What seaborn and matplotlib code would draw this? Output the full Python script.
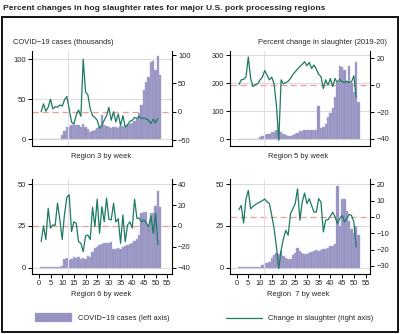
import matplotlib
matplotlib.use("Agg")
import matplotlib.pyplot as plt
import matplotlib.transforms as mtransforms
from matplotlib.patches import Rectangle
from matplotlib.lines import Line2D
import seaborn as sns

# ---- data -------------------------------------------------------------
case_weeks = list(range(1, 53))
change_weeks = list(range(1, 52))

region3_cases = [0.3] * 9 + [
    6, 11, 15, 16, 17.5, 18, 18, 18, 16, 19.5, 16, 13, 9.6, 10.4, 11.7, 14.6,
    15.8, 30, 18, 17, 15.8, 14.6, 15.4, 15.8, 14.6, 16.7, 16.3, 15.8, 18, 19.6,
    21, 23, 25.4, 32.5, 43, 61.7, 72, 78, 97, 98, 86.7, 104, 80]
region3_change = [
    0, 14, 1, 8, 22, 5, 9, 8, 12, 10, 21, 27, 5, -18, -22, -6, 3, -8, 93, 35,
    30, 5, -7, -10, -15, -29, -24, -15, -7, 8, -15, 0, -18, -4, -24, -7, -27,
    -23, -17, -15, -10, -12, -8, -12, -11, -13, -15, -21, -13, -20, -12]

region5_cases = [1] * 9 + [
    8, 12, 15, 18, 20, 25, 27, 33, 31, 25, 19, 15, 12, 13, 15, 18, 24, 30, 31,
    32, 32, 32, 32, 33, 33, 120, 40, 45, 54, 78, 93, 111, 153, 200, 263, 258,
    248, 205, 262, 200, 168, 277, 133]
region5_change = [
    0.5, 4, 4.5, 6, 21, 5, -1, 0.5, 1, 4, 6, 11, 7.5, 4, 6, 1, -15, -41, 4, 1,
    2, 3, 5, 8, 10, 12, 14, 15.5, 17.5, 14.5, 17, 12.5, 15, 12, 8, 6.5, -2.5,
    4, 0, 5, -1, 5, 2, 4.5, 2.5, 2, 3, 2, 2.5, 7, -9]

region6_cases = [0.3] * 9 + [
    1, 5, 6, 4.6, 5.4, 6.6, 5.6, 6.2, 5.2, 6, 5.4, 7, 6.6, 9.6, 11.6, 12.6,
    13.6, 14.2, 15, 14.6, 15, 15.5, 11.5, 11.2, 12, 11.5, 12.6, 13, 13.6, 14.2,
    15, 15.8, 17, 19.5, 33, 33.2, 33.6, 25.6, 32.6, 32.6, 37, 46.2, 36.6]
region6_change = [
    -15, 0, -13, 17, -2, 1, 0.6, 22, 6, -13, 11.5, 27.5, 30, -5.4, 4, 2.6, -15,
    -16.6, -24.6, -9.6, -8.6, -13, 18, -0.6, 25.6, -7, 18.6, 4, 26.6, 6.4, 5.8,
    21.8, 3.8, 7, -16.6, 10.6, -15, 1, 4, -2, 25.6, 7.4, 7.4, 4, 5.8, 2.6,
    -0.6, 9.6, -7, 12, -18]

region7_cases = [0.3] * 10 + [
    1.6, 2.6, 3, 3.6, 5.6, 7.6, 8.6, 8.2, 10.2, 7, 5.6, 5, 5.2, 7.6, 8.6, 12,
    10, 9, 8.2, 8.2, 8.6, 9.6, 10.2, 10.6, 9.8, 10.6, 11.2, 11, 11.6, 13, 13.2,
    14, 49, 25, 41.5, 41, 34, 28, 23, 21, 25, 19.6]
region7_change = [
    4.5, 7, -3.7, 11, 16.3, 5, 6.5, 7.5, 8.5, 9.2, 10, 11, 9.2, 8.2, 1, -7,
    -18.4, -31.6, -20.4, -13.3, -8.2, -11.2, 2, 5, 8.2, 17.3, -2, 9.2, 14.7,
    8.2, 11.2, 7, 3, 3, 11.2, 9.2, -9.2, -2, -1.6, 0.4, 3, 0, -4, -1, 1, -3,
    -1, 1.6, 1, -3, -18.4]

region_labels = ["Region 3 by week", "Region 5 by week",
                 "Region 6 by week", "Region  7 by week"]
first_case_week = [12.3, 11.8, 12.3, 11.8]

left_ticks = [[0, 50, 100], [0, 100, 200, 300], [0, 25, 50], [0, 25, 50]]
right_ticks = [[-50, 0, 50, 100], [-40, -20, 0, 20],
               [-40, -20, 0, 20, 40], [-30, -20, -10, 0, 10, 20]]
week_ticks = list(range(0, 60, 5))

# ---- style ------------------------------------------------------------
BAR = "#9591c1"
BAR_EDGE = "#b3b0d6"
LINE = "#1d7a62"
ZERO = "#eb9d9d"
MARK = "#ebd4ee"
GRID = "#dcdcdc"
FS = 5.4

sns.set_theme(style="white")
plt.rcParams["font.family"] = ["Liberation Sans", "DejaVu Sans"]
plt.rcParams["axes.unicode_minus"] = True

fig = plt.figure(figsize=(4.0, 3.34), dpi=100)
W, H = 400.0, 334.0


def rect(left, top, right, bottom):
    return [left / W, 1 - bottom / H, (right - left) / W, (bottom - top) / H]


panels = [
    dict(pos=rect(32.3, 50.7, 171.7, 145.7), cases=region3_cases,
         change=region3_change, lylim=(-8, 111), rylim=(-60, 108), xt=False),
    dict(pos=rect(230.0, 50.7, 370.0, 145.7), cases=region5_cases,
         change=region5_change, lylim=(-23, 317), rylim=(-45, 25.7), xt=False),
    dict(pos=rect(32.3, 179.0, 171.7, 274.0), cases=region6_cases,
         change=region6_change, lylim=(-3.8, 53.2), rylim=(-46, 45), xt=True),
    dict(pos=rect(230.0, 179.0, 370.0, 274.0), cases=region7_cases,
         change=region7_change, lylim=(-3.8, 53.2), rylim=(-35, 23.3), xt=True),
]

for i, p in enumerate(panels):
    ax = fig.add_axes(p["pos"])
    ax2 = ax.twinx()

    # weekly COVID-19 cases as bars (left axis)
    sns.histplot(x=case_weeks, weights=p["cases"], discrete=True, ax=ax,
                 color=BAR, alpha=1, edgecolor=BAR_EDGE, linewidth=0.3,
                 zorder=1)
    # weekly change in slaughter as a line (right axis)
    sns.lineplot(x=change_weeks, y=p["change"], ax=ax2, color=LINE,
                 linewidth=0.9)

    ax.set_xlim(-2.8, 56.9)
    ax.set_ylim(*p["lylim"])
    ax2.set_ylim(*p["rylim"])

    # zero line of the right axis, drawn behind the bars
    trans = mtransforms.blended_transform_factory(ax.transAxes, ax2.transData)
    ax.plot([0, 1], [0, 0], transform=trans, color=ZERO, lw=0.9,
            ls=(0, (5, 3)), zorder=0.8)
    ax.set_xlim(-2.8, 56.9)
    ax.set_ylim(*p["lylim"])

    ax.axvline(first_case_week[i], color=MARK, lw=0.7, zorder=2)

    ax.set_axisbelow(True)
    ax.yaxis.grid(True, color=GRID, lw=0.8)
    ax.set_yticks(left_ticks[i])
    ax2.set_yticks(right_ticks[i])
    ax.set_ylabel("")
    ax2.set_ylabel("")
    ax.set_xlabel("")
    ax2.set_xlabel("")

    if p["xt"]:
        ax.set_xticks(week_ticks)
    else:
        ax.set_xticks([])

    for a in (ax, ax2):
        for s in a.spines.values():
            s.set_visible(False)
    ax.spines["left"].set_visible(True)
    ax.spines["bottom"].set_visible(True)
    ax2.spines["right"].set_visible(True)
    for s in (ax.spines["left"], ax.spines["bottom"], ax2.spines["right"]):
        s.set_color("black")
        s.set_linewidth(0.8)

    ax.tick_params(axis="both", which="both", direction="out", length=3,
                   width=0.7, color="black", labelsize=FS, pad=1.5,
                   left=True, bottom=p["xt"])
    ax2.tick_params(axis="y", direction="out", length=3, width=0.7,
                    color="black", labelsize=FS, pad=1.5, right=True)

# ---- frame, titles and labels ----------------------------------------
fig.patches.append(Rectangle((2 / W, 1 - 332 / H), 396 / W, 315 / H,
                             transform=fig.transFigure, fill=False,
                             edgecolor="black", lw=1.3))

fig.text(3 / W, 1 - 8 / H,
         "Percent changes in hog slaughter rates for major U.S. pork processing regions",
         fontsize=6.1, fontweight="bold", va="center", ha="left")
fig.text(13 / W, 1 - 42.7 / H, "COVID\u221219 cases (thousands)",
         fontsize=FS, va="center", ha="left")
fig.text(387 / W, 1 - 42.7 / H, "Percent change in slaughter (2019-20)",
         fontsize=FS, va="center", ha="right")

label_xy = [(101, 157), (298, 157), (101, 295), (298, 295)]
for (x, y), lab in zip(label_xy, region_labels):
    fig.text(x / W, 1 - y / H, lab, fontsize=FS, va="center", ha="center")

# legend
fig.patches.append(Rectangle((35 / W, 1 - 322.3 / H), 37 / W, 9 / H,
                             transform=fig.transFigure, facecolor=BAR,
                             edgecolor=BAR_EDGE, lw=0.3))
fig.text(78 / W, 1 - 318 / H, "COVID\u221219 cases (left axis)",
         fontsize=FS, va="center", ha="left")
fig.lines.append(Line2D([226 / W, 262 / W], [1 - 318 / H, 1 - 318 / H],
                        transform=fig.transFigure, color=LINE, lw=0.9))
fig.text(268 / W, 1 - 318 / H, "Change in slaughter (right axis)",
         fontsize=FS, va="center", ha="left")

fig.savefig("out.png", dpi=100)
